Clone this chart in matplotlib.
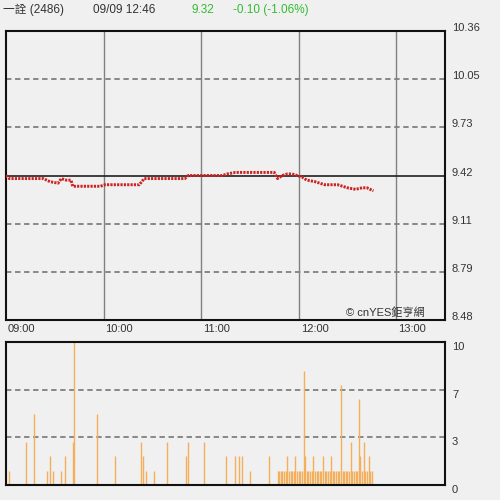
import matplotlib
matplotlib.use("Agg")
import matplotlib.pyplot as plt
import matplotlib.transforms as mtransforms

# ---------------- data ----------------
title_name = "一詮 (2486)"
title_time = "09/09 12:46"
last_price = "9.32"
change_text = "-0.10 (-1.06%)"
watermark = "© cnYES鉅亨網"

# price line (minutes after 09:00, price)
price_min = [0, 2, 23, 27, 32, 34, 37, 40, 41, 58, 61, 82, 85, 110, 112, 133, 136,
             141, 165, 167, 170, 173, 176, 179, 182, 185, 190, 196, 204, 207, 210,
             215, 219, 222, 224, 226]
price_val = [9.42, 9.40, 9.40, 9.38, 9.37, 9.40, 9.39, 9.39, 9.35, 9.35, 9.36, 9.36,
             9.40, 9.40, 9.42, 9.42, 9.43, 9.44, 9.44, 9.40, 9.42, 9.43, 9.43, 9.42,
             9.41, 9.39, 9.38, 9.36, 9.36, 9.35, 9.34, 9.33, 9.34, 9.34, 9.33, 9.32]
prev_close = 9.42
price_ticks = [8.48, 8.793, 9.107, 9.42, 9.733, 10.047, 10.36]
price_labels = ["8.48", "8.79", "9.11", "9.42", "9.73", "10.05", "10.36"]

# volume (minutes after 09:00, lots)
vol_min = [2, 12, 17, 25, 27, 29, 34, 36, 41, 42, 56, 67, 83, 84, 86, 91, 99, 111,
           112, 122, 135, 141, 143, 145, 150, 162,
           167, 168, 169, 170, 171, 172, 173, 174, 175, 176, 177, 178, 179, 180,
           181, 182, 183, 184, 185, 186, 187, 188, 189, 190, 191, 192, 193, 194,
           195, 196, 197, 198, 199, 200, 201, 202, 203, 204, 205, 206, 207, 208,
           209, 210, 211, 212, 213, 214, 215, 216, 217, 218, 219, 220, 221, 222,
           223, 224, 225]
vol_val = [1, 3, 5, 1, 2, 1, 1, 2, 3, 10, 5, 2, 3, 2, 1, 1, 3, 2,
           3, 3, 2, 2, 2, 2, 1, 2,
           1, 1, 1, 1, 1, 1, 2, 1, 1, 1, 1, 2, 1, 1,
           1, 1, 8, 2, 1, 1, 1, 1, 2, 1, 1, 1, 1, 1,
           2, 1, 1, 1, 1, 2, 1, 1, 1, 1, 1, 7, 1, 1,
           1, 1, 1, 3, 1, 1, 1, 1, 6, 2, 1, 3, 1, 1,
           2, 1, 1]
vol_ticks = [0, 10 / 3, 20 / 3, 10]
vol_labels = ["0", "3", "7", "10"]

time_ticks = [0, 60, 120, 180, 240]
time_labels = ["09:00", "10:00", "11:00", "12:00", "13:00"]

# ---------------- style ----------------
BG = "#F0F0F0"
GRID = "#808080"
TXT = "#333333"
GREEN = "#33BB33"
RED = "#CC2222"
BAR = "#F5AE5A"
FONT = ["Liberation Sans", "Noto Sans CJK TC", "DejaVu Sans"]
plt.rcParams["font.family"] = FONT

fig = plt.figure(figsize=(5, 5), dpi=100, facecolor=BG)

ax = fig.add_axes([6 / 500, 1 - 320 / 500, 439 / 500, 289 / 500], facecolor=BG)
axv = fig.add_axes([6 / 500, 1 - 485 / 500, 439 / 500, 143 / 500], facecolor=BG)

# ---------------- price panel ----------------
ax.set_xlim(0, 270)
ax.set_ylim(price_ticks[0], price_ticks[-1])
for t in time_ticks[1:]:
    ax.axvline(t, color=GRID, lw=1.0, zorder=1)
for p in price_ticks[1:-1]:
    if abs(p - prev_close) < 1e-6:
        continue
    ax.axhline(p, color=GRID, lw=1.3, dashes=(3, 2), zorder=1)
ax.axhline(prev_close, color="#202020", lw=1.2, zorder=2)
ax.plot(price_min, price_val, color=RED, lw=2.1, linestyle=(0, (0.75, 0.4)),
        solid_capstyle="butt", dash_capstyle="butt", zorder=3)

ax.yaxis.tick_right()
ax.set_yticks(price_ticks)
ax.set_yticklabels(price_labels)
ax.tick_params(axis="y", length=0, pad=5, labelsize=8, labelcolor=TXT)
for lab in ax.get_yticklabels():
    lab.set_verticalalignment("baseline")

ax.set_xticks(time_ticks)
ax.set_xticklabels(time_labels)
ax.tick_params(axis="x", length=0, pad=3, labelsize=8, labelcolor=TXT)
off = mtransforms.ScaledTranslation(2 / 100, 0, fig.dpi_scale_trans)
for lab in ax.get_xticklabels():
    lab.set_horizontalalignment("left")
    lab.set_transform(lab.get_transform() + off)

for s in ax.spines.values():
    s.set_color("#111111")
    s.set_linewidth(1.5)

ax.text(0.953, 0.006, watermark, transform=ax.transAxes, ha="right", va="bottom",
        fontsize=8, color=TXT, family=FONT, zorder=4)

# ---------------- volume panel ----------------
axv.set_xlim(0, 270)
axv.set_ylim(0, 10)
for v in vol_ticks[1:-1]:
    axv.axhline(v, color=GRID, lw=1.3, dashes=(3, 2), zorder=1)
axv.vlines(vol_min, 0, vol_val, colors=BAR, linewidth=1.0, zorder=2)
axv.set_xticks([])
axv.yaxis.tick_right()
axv.set_yticks(vol_ticks)
axv.set_yticklabels(vol_labels)
axv.tick_params(axis="y", length=0, pad=5, labelsize=8, labelcolor=TXT)
for lab in axv.get_yticklabels():
    lab.set_verticalalignment("top")
for s in axv.spines.values():
    s.set_color("#111111")
    s.set_linewidth(1.5)

# ---------------- header ----------------
fig.text(3 / 500, 1 - 10 / 500, title_name, ha="left", va="center", fontsize=8.5,
         color=TXT, family=FONT)
fig.text(93 / 500, 1 - 10 / 500, title_time, ha="left", va="center", fontsize=8.5,
         color=TXT, family=FONT)
fig.text(191 / 500, 1 - 10 / 500, last_price, ha="left", va="center", fontsize=8.5,
         color=GREEN, family=FONT)
fig.text(233 / 500, 1 - 10 / 500, change_text, ha="left", va="center", fontsize=8.5,
         color=GREEN, family=FONT)

fig.savefig("out.png", dpi=100, facecolor=BG)
